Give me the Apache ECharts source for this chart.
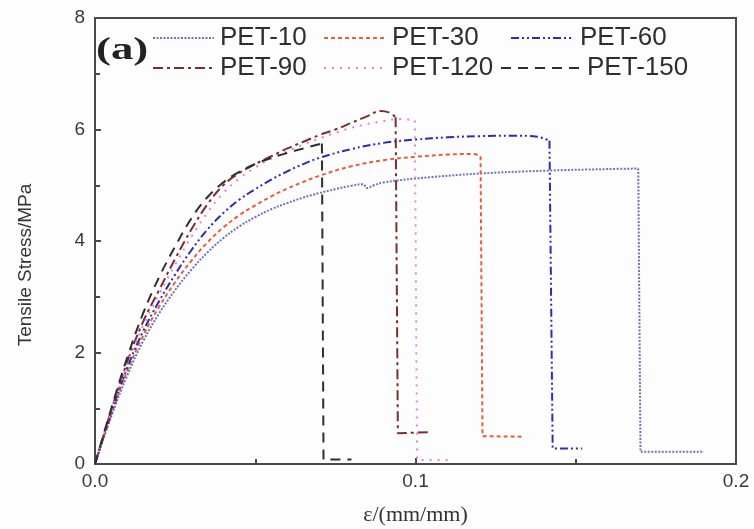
<!DOCTYPE html>
<html>
<head>
<meta charset="utf-8">
<script src="https://cdn.jsdelivr.net/npm/echarts@6/dist/echarts.min.js"></script>
<style>
  html, body { margin: 0; padding: 0; background: #fdfdfd; }
  #chart { width: 754px; height: 529px; }
</style>
</head>
<body>
<div id="chart"></div>
<script>
// 曲线数据 [应变, 应力]：上升段 + 断裂段
const pet10Curve = [
  [0, 0], [0.005, 0.84], [0.01, 1.58], [0.015, 2.2], [0.02, 2.7], [0.025, 3.12],
  [0.03, 3.48], [0.035, 3.79], [0.04, 4.05], [0.045, 4.26], [0.05, 4.43],
  [0.055, 4.57], [0.06, 4.68], [0.065, 4.78], [0.07, 4.86], [0.075, 4.93],
  [0.08, 4.99], [0.0836, 5.02], [0.0848, 4.95], [0.087, 5.0], [0.09, 5.05],
  [0.1, 5.12], [0.12, 5.21], [0.14, 5.26], [0.16, 5.29], [0.1695, 5.3]
]
const pet10Drop = [[0.1695, 5.3], [0.1702, 0.22], [0.19, 0.22]]

const pet30Curve = [
  [0, 0], [0.005, 0.88], [0.01, 1.66], [0.015, 2.3], [0.02, 2.82], [0.025, 3.26],
  [0.03, 3.64], [0.035, 3.97], [0.04, 4.24], [0.045, 4.46], [0.05, 4.64],
  [0.055, 4.8], [0.06, 4.94], [0.065, 5.06], [0.07, 5.17], [0.08, 5.34],
  [0.09, 5.45], [0.1, 5.51], [0.11, 5.55], [0.118, 5.56], [0.1203, 5.52]
]
const pet30Drop = [[0.1203, 5.52], [0.1209, 0.5], [0.1335, 0.49]]

const pet60Curve = [
  [0, 0], [0.005, 0.9], [0.01, 1.72], [0.015, 2.38], [0.02, 2.92], [0.025, 3.4],
  [0.03, 3.83], [0.035, 4.2], [0.04, 4.5], [0.045, 4.74], [0.05, 4.93],
  [0.055, 5.1], [0.06, 5.25], [0.065, 5.38], [0.07, 5.49], [0.08, 5.65],
  [0.09, 5.76], [0.1, 5.82], [0.11, 5.86], [0.12, 5.88], [0.13, 5.89],
  [0.138, 5.87], [0.1418, 5.8]
]
const pet60Drop = [[0.1418, 5.8], [0.1428, 0.28], [0.152, 0.28]]

const pet90Curve = [
  [0, 0], [0.005, 0.95], [0.01, 1.82], [0.015, 2.55], [0.02, 3.12], [0.025, 3.68],
  [0.03, 4.2], [0.035, 4.65], [0.04, 5.0], [0.045, 5.22], [0.05, 5.38],
  [0.055, 5.52], [0.06, 5.66], [0.065, 5.78], [0.07, 5.9], [0.075, 6.0],
  [0.08, 6.12], [0.085, 6.24], [0.089, 6.33], [0.092, 6.3], [0.0938, 6.22]
]
const pet90Drop = [[0.0938, 6.22], [0.0945, 0.55], [0.104, 0.57]]

const pet120Curve = [
  [0, 0], [0.005, 0.93], [0.01, 1.78], [0.015, 2.48], [0.02, 3.05], [0.025, 3.57],
  [0.03, 4.07], [0.035, 4.5], [0.04, 4.86], [0.045, 5.12], [0.05, 5.32],
  [0.055, 5.48], [0.06, 5.61], [0.065, 5.73], [0.07, 5.84], [0.075, 5.94],
  [0.08, 6.03], [0.085, 6.1], [0.09, 6.15], [0.095, 6.19], [0.0998, 6.16]
]
const pet120Drop = [[0.0998, 6.16], [0.1005, 0.07], [0.111, 0.07]]

const pet150Curve = [
  [0, 0], [0.005, 0.98], [0.01, 1.9], [0.015, 2.7], [0.02, 3.35], [0.025, 3.9],
  [0.03, 4.4], [0.035, 4.78], [0.04, 5.05], [0.045, 5.24], [0.05, 5.38],
  [0.055, 5.49], [0.06, 5.58], [0.065, 5.66], [0.0708, 5.75]
]
const pet150Drop = [[0.0708, 5.75], [0.0713, 0.08], [0.08, 0.08]]

const seriesNames = ['PET-10', 'PET-30', 'PET-60', 'PET-90', 'PET-120', 'PET-150']
const curveData = [pet10Curve, pet30Curve, pet60Curve, pet90Curve, pet120Curve, pet150Curve]
const dropData = [pet10Drop, pet30Drop, pet60Drop, pet90Drop, pet120Drop, pet150Drop]
const seriesColors = ['#6d76b6', '#e5603a', '#2b2bb5', '#7a2e2e', '#e27fdc', '#2e2e2e']
const seriesDash = [[2, 1.5], [4, 3], [8, 3, 2, 3, 2, 3], [10, 4, 3, 4], [2, 6], [10, 7]]

const xTicks = [0, 0.1, 0.2]
const yTicks = [0, 2, 4, 6, 8]

// 图例位置 [left, top, 线长]
const legendPos = [
  [152, 25, 61], [323, 25, 62], [510, 25, 63],
  [152, 55, 61], [323, 55, 62], [500, 55, 80]
]

const chart = echarts.init(document.getElementById('chart'))

const axisColor = '#4a4a4a'
const labelStyle = { color: '#3a3a3a', fontSize: 19, fontFamily: 'Liberation Sans, Arial' }

const lineSeries = []
seriesNames.forEach((name, i) => {
  const style = { color: seriesColors[i], width: 2, type: seriesDash[i] }
  lineSeries.push({
    name: name, type: 'line', data: curveData[i],
    showSymbol: false, symbol: 'none', smooth: 0.4,
    color: seriesColors[i], lineStyle: style
  })
  lineSeries.push({
    name: name, type: 'line', data: dropData[i],
    showSymbol: false, symbol: 'none', smooth: false,
    color: seriesColors[i], lineStyle: style
  })
})

const option = {
  backgroundColor: '#fdfdfd',
  animation: false,
  grid: {
    left: 95, right: 18, top: 18, bottom: 65,
    outerBoundsMode: 'none',
    containLabel: false,
    show: true, borderColor: axisColor, borderWidth: 2, backgroundColor: 'transparent'
  },
  legend: seriesNames.map((name, i) => ({
    data: [name],
    left: legendPos[i][0],
    top: legendPos[i][1],
    itemWidth: legendPos[i][2],
    itemHeight: 14,
    itemGap: 8,
    padding: 0,
    selectedMode: false,
    itemStyle: { opacity: 0 },
    textStyle: { fontSize: 26, color: '#2e2e2e', fontFamily: 'Liberation Sans, Arial', padding: [0, 0, 0, 1] }
  })),
  xAxis: {
    type: 'value',
    min: xTicks[0],
    max: xTicks[xTicks.length - 1],
    interval: 0.1,
    name: 'ε/(mm/mm)',
    nameLocation: 'middle',
    nameGap: 40,
    nameTextStyle: { fontSize: 22, color: '#333', fontFamily: 'Liberation Serif, Times New Roman' },
    axisLine: { lineStyle: { color: axisColor, width: 2 } },
    axisTick: { inside: true, length: 6, lineStyle: { color: axisColor, width: 2 } },
    minorTick: { show: true, splitNumber: 2, length: 5, lineStyle: { color: axisColor, width: 2 } },
    splitLine: { show: false },
    axisLabel: { ...labelStyle, margin: 8, formatter: v => v.toFixed(1) }
  },
  yAxis: {
    type: 'value',
    min: yTicks[0],
    max: yTicks[yTicks.length - 1],
    interval: 2,
    axisLine: { show: true, lineStyle: { color: axisColor, width: 2 } },
    axisTick: { show: true, inside: true, length: 6, lineStyle: { color: axisColor, width: 2 } },
    minorTick: { show: true, splitNumber: 2, length: 5, lineStyle: { color: axisColor, width: 2 } },
    splitLine: { show: false },
    axisLabel: { ...labelStyle, margin: 10 }
  },
  graphic: [
    {
      type: 'text',
      x: 96, y: 51,
      scaleX: 1.4,
      style: {
        text: '(a)', font: 'bold 32px "Liberation Serif", "Times New Roman"',
        fill: '#222', textVerticalAlign: 'middle'
      }
    },
    {
      type: 'text',
      x: 26, y: 265,
      rotation: Math.PI / 2,
      style: {
        text: 'Tensile Stress/MPa', font: '19px "Liberation Sans", Arial',
        fill: '#333', textAlign: 'center', textVerticalAlign: 'middle'
      }
    }
  ],
  series: lineSeries
}

chart.setOption(option)
</script>
</body>
</html>
